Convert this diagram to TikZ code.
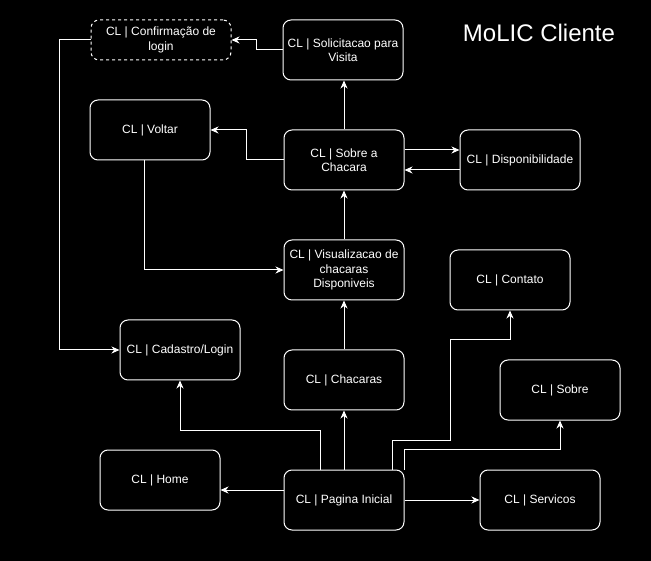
\documentclass[tikz,border=0pt]{standalone}
\usepackage{fontspec}
\setmainfont{Liberation Sans}
\usetikzlibrary{arrows.meta,calc}
\begin{document}
\begin{tikzpicture}[x=1pt,y=-1pt,
  box/.style={draw=white, line width=1pt, rounded corners=8pt, minimum width=120pt, minimum height=60pt,
    inner sep=2pt, align=center, text=white, font=\fontsize{12pt}{14.4pt}\selectfont},
  dashbox/.style={box, dash pattern=on 3pt off 3pt, minimum width=140pt, minimum height=40pt},
  link/.style={draw=white, line width=1pt, -{Stealth[length=8pt,width=7pt,inset=2.5pt]}}
]
\useasboundingbox[fill=black] (0,0) rectangle (651,561);
\node[text=white, font=\fontsize{24pt}{28pt}\selectfont] (title) at (539,33) {MoLIC Cliente};
\node[dashbox] (conf) at (161,40) {CL | Confirmação de\\login};
\node[box] (sol) at (343,50) {CL | Solicitacao para\\Visita};
\node[box] (volt) at (150,130) {CL | Voltar};
\node[box] (sac) at (344,160) {CL | Sobre a\\Chacara};
\node[box] (disp) at (520,160) {CL | Disponibilidade};
\node[box] (vis) at (344,270) {CL | Visualizacao de\\chacaras\\Disponiveis};
\node[box] (cad) at (180,350) {CL | Cadastro/Login};
\node[box] (chac) at (344,380) {CL | Chacaras};
\node[box] (cont) at (510,280) {CL | Contato};
\node[box] (sob) at (560,390) {CL | Sobre};
\node[box] (home) at (160,480) {CL | Home};
\node[box] (pag) at (344,500) {CL | Pagina Inicial};
\node[box] (serv) at (540,500) {CL | Servicos};

\draw[link] (sol.west) -- ++(-26,0) |- (conf.east);
\draw[link] (sac.north) -- (sac.north |- sol.south);
\draw[link] (sac.west) -- ++(-37,0) |- (volt.east);
\draw[link] ([yshift=10pt]sac.east) -- ([yshift=10pt]disp.west);
\draw[link] ([yshift=-10pt]disp.west) -- ([yshift=-10pt]sac.east);
\draw[link] (vis.north) -- (sac.south);
\draw[link] ([xshift=-6pt]volt.south) |- (vis.west);
\draw[link] (conf.west) -- ++(-31,0) |- (cad.west);
\draw[link] (chac.north) -- (vis.south);
\draw[link] ([xshift=-24pt]pag.north) -- ++(0,-39) -| (cad.south);
\draw[link] (pag.north) -- (chac.south);
\draw[link] ([xshift=48pt]pag.north) -- ++(0,-29) -- ++(58,0) -- ++(0,-101) -| (cont.south);
\draw[link] (pag.north east) -- ++(0,-20) -| (sob.south);
\draw[link] ([yshift=10pt]pag.west) -- ([yshift=-10pt]home.east);
\draw[link] (pag.east) -- (serv.west);
\end{tikzpicture}
\end{document}
